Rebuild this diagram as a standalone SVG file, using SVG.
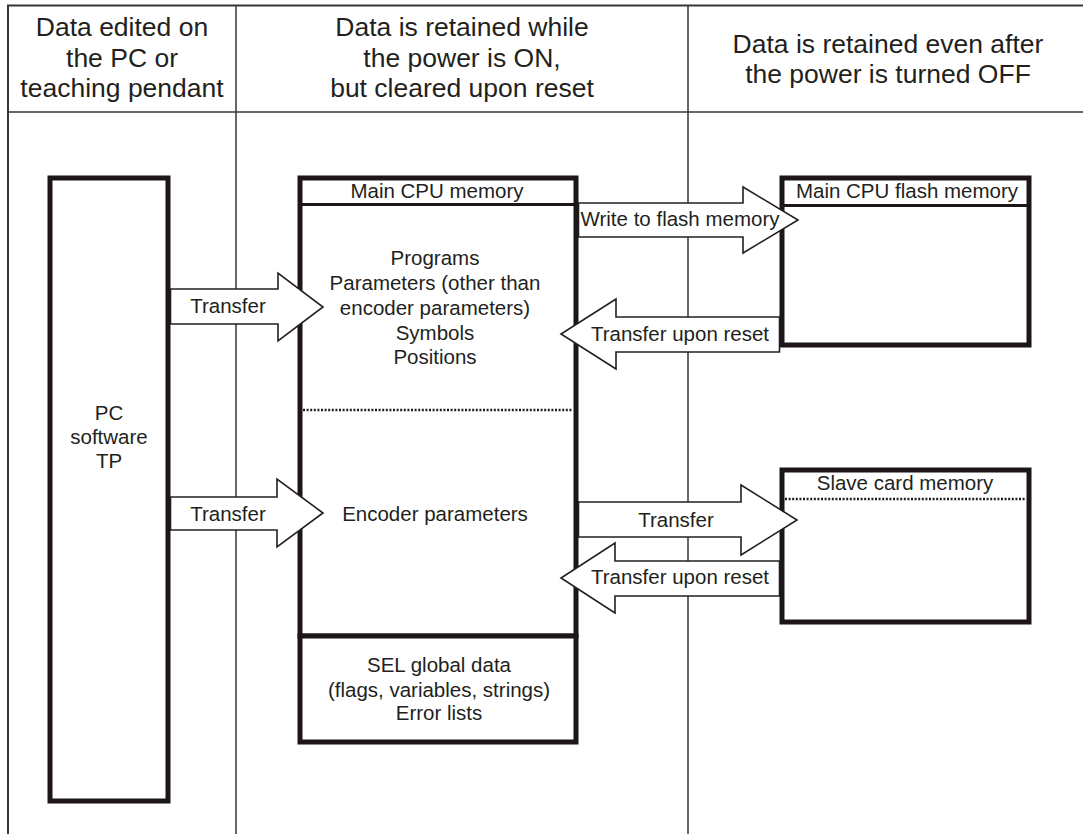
<svg xmlns="http://www.w3.org/2000/svg" width="1083" height="834" viewBox="0 0 1083 834">
  <style>
    text { font-family: "Liberation Sans", Arial, Helvetica, sans-serif; fill: #231f20; text-anchor: middle; }
    .hdr { font-size: 26.5px; }
    .lbl { font-size: 20.5px; }
    .frame { stroke: #3a3436; fill: none; }
    .box { fill: #ffffff; stroke: #1c1519; stroke-width: 5; }
    .rule { stroke: #1c1519; stroke-width: 3; fill: none; }
    .dots { stroke: #231f20; stroke-width: 2.5; stroke-dasharray: 2 1.6; fill: none; }
    .arrow { fill: #ffffff; stroke: #231f20; stroke-width: 1.6; stroke-linejoin: miter; }
  </style>

  <rect x="0" y="0" width="1083" height="834" fill="#ffffff"/>

  <!-- table frame and column dividers -->
  <g id="frame">
    <line class="frame" x1="7" y1="5.5" x2="1083" y2="5.5" stroke-width="2.2"/>
    <line class="frame" x1="8" y1="5" x2="8" y2="834" stroke-width="2"/>
    <line class="frame" x1="8" y1="112" x2="1083" y2="112" stroke-width="1.5"/>
    <line class="frame" x1="236" y1="5" x2="236" y2="834" stroke-width="1.5"/>
    <line class="frame" x1="688" y1="5" x2="688" y2="834" stroke-width="1.5"/>
  </g>

  <!-- column headings -->
  <g id="heading-edit">
    <text class="hdr" x="122" y="36">Data edited on</text>
    <text class="hdr" x="122" y="67">the PC or</text>
    <text class="hdr" x="122" y="97">teaching pendant</text>
  </g>
  <g id="heading-volatile">
    <text class="hdr" x="462" y="36">Data is retained while</text>
    <text class="hdr" x="462" y="67">the power is ON,</text>
    <text class="hdr" x="462" y="97">but cleared upon reset</text>
  </g>
  <g id="heading-nonvolatile">
    <text class="hdr" x="888" y="53">Data is retained even after</text>
    <text class="hdr" x="888" y="83">the power is turned OFF</text>
  </g>

  <!-- PC software / teaching pendant -->
  <g id="pc-tp">
    <rect class="box" x="50" y="178" width="118" height="623"/>
    <text class="lbl" x="109" y="420">PC</text>
    <text class="lbl" x="109" y="444">software</text>
    <text class="lbl" x="109" y="468">TP</text>
  </g>

  <!-- main CPU memory -->
  <g id="main-cpu-memory">
    <rect class="box" x="300" y="178" width="276" height="458"/>
    <line class="rule" x1="302" y1="204.5" x2="574" y2="204.5"/>
    <text class="lbl" x="437" y="198">Main CPU memory</text>
    <text class="lbl" x="435" y="265">Programs</text>
    <text class="lbl" x="435" y="290">Parameters (other than</text>
    <text class="lbl" x="435" y="315">encoder parameters)</text>
    <text class="lbl" x="435" y="340">Symbols</text>
    <text class="lbl" x="435" y="364">Positions</text>
    <line class="dots" x1="303" y1="410" x2="573" y2="410"/>
    <text class="lbl" x="435" y="521">Encoder parameters</text>
  </g>

  <!-- SEL global data -->
  <g id="sel-global-data">
    <rect class="box" x="300" y="636" width="276" height="106"/>
    <text class="lbl" x="439" y="672">SEL global data</text>
    <text class="lbl" x="439" y="697">(flags, variables, strings)</text>
    <text class="lbl" x="439" y="720">Error lists</text>
  </g>

  <!-- main CPU flash memory -->
  <g id="main-cpu-flash">
    <rect class="box" x="782" y="178" width="247" height="167"/>
    <line class="rule" x1="784" y1="205.5" x2="1027" y2="205.5"/>
    <text class="lbl" x="907" y="198">Main CPU flash memory</text>
  </g>

  <!-- slave card memory -->
  <g id="slave-card-memory">
    <rect class="box" x="782" y="470" width="247" height="152"/>
    <line class="dots" x1="785" y1="499" x2="1026" y2="499"/>
    <text class="lbl" x="905" y="490">Slave card memory</text>
  </g>

  <!-- block arrows between memories -->
  <g id="connectors">
    <polygon class="arrow" points="170.5,289 278,289 278,273 323,307 278,341 278,324 170.5,324"/>
    <text class="lbl" x="228" y="313">Transfer</text>

    <polygon class="arrow" points="170.5,497 277,497 277,479 323,513 277,547 277,530 170.5,530"/>
    <text class="lbl" x="228" y="521">Transfer</text>

    <polygon class="arrow" points="578.5,203 743,203 743,187 798,220 743,253 743,237 578.5,237"/>
    <text class="lbl" x="680" y="226">Write to flash memory</text>

    <polygon class="arrow" points="779.5,317 616,317 616,299 561,334 616,369 616,352 779.5,352"/>
    <text class="lbl" x="680" y="341">Transfer upon reset</text>

    <polygon class="arrow" points="578.5,502 741,502 741,485 797,520 741,555 741,537 578.5,537"/>
    <text class="lbl" x="676" y="527">Transfer</text>

    <polygon class="arrow" points="779.5,561 615,561 615,543 561,578 615,613 615,596 779.5,596"/>
    <text class="lbl" x="680" y="584">Transfer upon reset</text>
  </g>
</svg>
